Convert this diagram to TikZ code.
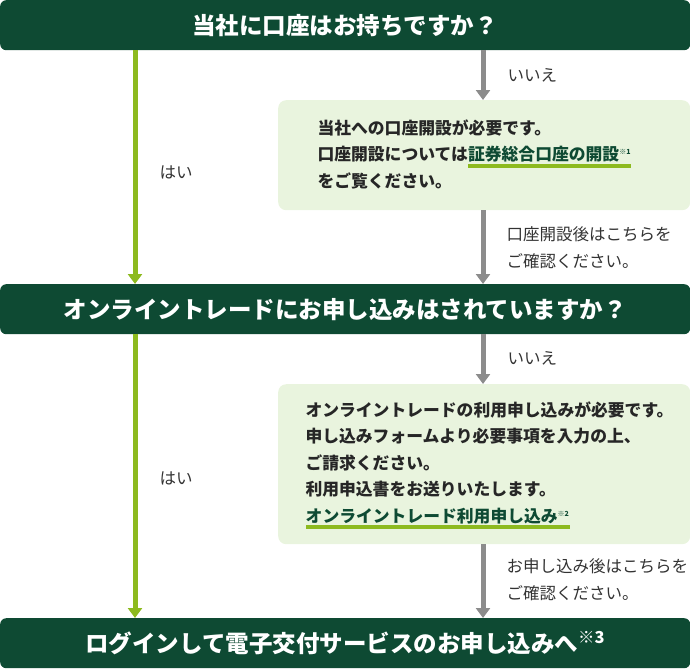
\documentclass[tikz,border=0pt]{standalone}
\usepackage{fontspec}
\setmainfont{Noto Sans CJK JP}
\usetikzlibrary{arrows.meta}
\definecolor{dg}{HTML}{0E4A33}
\definecolor{lg}{HTML}{E9F4DE}
\definecolor{ag}{HTML}{8DBA1F}
\definecolor{gy}{HTML}{8C8C8C}
\tikzset{
 bar/.style={fill=dg,rounded corners=6pt,text=white,font=\fontsize{23.5}{26}\selectfont\bfseries,minimum width=690pt,minimum height=50pt,anchor=north west,inner sep=0pt},
 box/.style={fill=lg,rounded corners=8pt,minimum width=412pt,anchor=north west,inner sep=0pt},
 body/.style={font=\fontsize{16.8}{26.5}\selectfont\bfseries,align=left,anchor=north west,text=black!85},
 lab/.style={font=\fontsize{16.5}{27}\selectfont,align=left,anchor=west,text=black!80},
 garr/.style={draw=ag,line width=5pt,-{Triangle[length=10pt,width=14pt]}},
 yarr/.style={draw=gy,line width=5pt,-{Triangle[length=10pt,width=14pt]}},
}
\newcommand{\lnk}[1]{\tikz[baseline=(t.base)]{\node[inner sep=0pt,text=dg,font=\bfseries](t){#1};\fill[ag]([yshift=-1pt]t.south west) rectangle ([yshift=-5pt]t.south east);}}
\begin{document}
\begin{tikzpicture}[x=1pt,y=-1pt]
\useasboundingbox (0,0) rectangle (690,670);
\node[bar] (q1) at (0,0) {当社に口座はお持ちですか？};
\node[bar] (q2) at (0,284) {オンライントレードにお申し込みはされていますか？};
\node[bar] (q3) at (0,618) {ログインして電子交付サービスのお申し込みへ\textsuperscript{※3}};
\node[box,minimum height=110pt] (b1) at (278,100) {};
\node[box,minimum height=160pt] (b2) at (278,384) {};
\node[body] (t1) at (314,116) {当社への口座開設が必要です。\\口座開設については\lnk{証券総合口座の開設\textsuperscript{\scriptsize ※1}}\\をご覧ください。};
\node[body] (t2) at (302,398) {オンライントレードの利用申し込みが必要です。\\申し込みフォームより必要事項を入力の上、\\ご請求ください。\\利用申込書をお送りいたします。\\\lnk{オンライントレード利用申し込み\textsuperscript{\scriptsize ※2}}};
\coordinate (l1) at (135,50); \coordinate (l1e) at (135,284);
\coordinate (l2) at (135,334); \coordinate (l2e) at (135,618);
\draw[garr] (l1) -- (l1e);
\draw[garr] (l2) -- (l2e);
\draw[yarr] (483,50) -- (b1.north -| 483,0);
\draw[yarr] (b1.south -| 483,0) -- (483,284);
\draw[yarr] (483,334) -- (b2.north -| 483,0);
\draw[yarr] (b2.south -| 483,0) -- (483,618);
\node[lab] (h1) at (156,172) {はい};
\node[lab] (h2) at (156,478) {はい};
\node[lab] (n1) at (504,75) {いいえ};
\node[lab] (n2) at (504,358) {いいえ};
\node[lab] (c1) at (503,248) {口座開設後はこちらを\\ご確認ください。};
\node[lab] (c2) at (503,580) {お申し込み後はこちらを\\ご確認ください。};
\end{tikzpicture}
\end{document}
